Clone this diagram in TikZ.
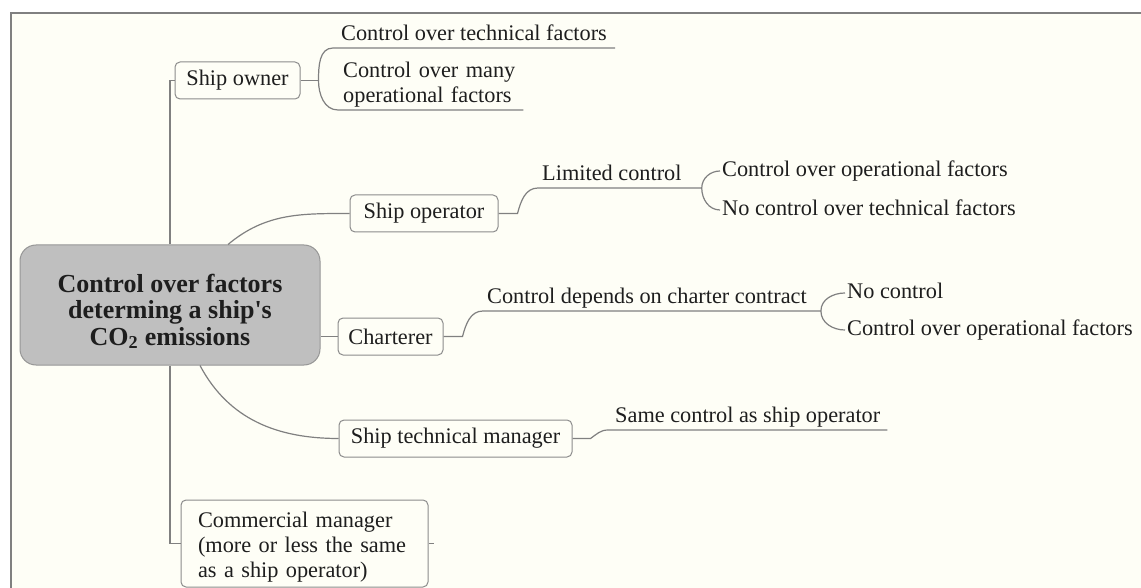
\documentclass[tikz,border=0pt]{standalone}
\usepackage{fontspec}
\setmainfont{Liberation Serif}
\usetikzlibrary{calc}

\definecolor{paper}{RGB}{254,254,246}
\definecolor{wire}{RGB}{128,128,128}
\definecolor{edge}{RGB}{140,140,140}
\definecolor{hub}{RGB}{191,191,191}
\definecolor{hubedge}{RGB}{150,150,150}
\definecolor{ink}{RGB}{30,30,30}

\tikzset{
    txt/.style={font=\fontsize{22.3}{25}\selectfont, text=ink},
    rolebox/.style={txt, draw=edge, fill=paper, line width=1pt, rounded corners=5pt,
        inner xsep=10pt, minimum height=37pt},
    branch/.style={txt, anchor=south west, inner xsep=4pt, inner ysep=2.5pt, align=left},
    branchline/.style={branch, text depth=4.6pt},
    leaf/.style={txt, anchor=west, inner xsep=2pt, text height=15.5pt, text depth=4.6pt},
    link/.style={draw=wire, line width=1.2pt}
}

\begin{document}
\begin{tikzpicture}[x=1pt, y=1pt]
    \useasboundingbox (0,0) rectangle (1141,-588);
    \fill[paper] (11,-13) rectangle (1141,-588);
    \draw[wire, line width=1.3pt] (11,-588) |- (1141,-13);

    \node[draw=hubedge, fill=hub, line width=1pt, rounded corners=16pt,
        minimum width=300pt, minimum height=120pt, align=center, text=ink,
        text height=80pt, text depth=0pt,
        font=\bfseries\fontsize{26}{26.5}\selectfont] (root) at (170,-305)
        {Control over factors\\determing a ship\textquotesingle s\\CO\textsubscript{2} emissions};

    \node[rolebox, minimum width=125pt] (owner) at (237.5,-80.5) {Ship owner};
    \node[rolebox, minimum width=148pt] (operator) at (424,-213.5) {Ship operator};
    \node[rolebox, minimum width=105pt] (charterer) at (390.5,-336.5) {Charterer};
    \node[rolebox, minimum width=233pt] (techman) at (455.5,-438.5) {Ship technical manager};
    \node[rolebox, minimum width=247pt, minimum height=87pt, text width=213pt, align=left,
        text height=23.5pt] (commercial) at (304.5,-543.5)
        {Commercial manager\\(more or less the same\\as a ship operator)};

    \node[branchline, inner xsep=8pt] (ownertech) at (333,-48)
        {Control over technical factors};
    \node[branch, text width=175pt, inner xsep=5pt] (ownerops) at (338,-110)
        {Control over many\\operational factors};
    \node[branchline] (oplimited) at (538,-188)
        {Limited control\hspace*{16pt}};
    \node[branchline] (chcontract) at (483,-311)
        {Control depends on charter contract\hspace*{10pt}};
    \node[branchline, inner xsep=7pt] (tmsame) at (608,-430)
        {Same control as ship operator};

    \node[leaf] (opops) at (720,-171) {Control over operational factors};
    \node[leaf] (optech) at (720,-210) {No control over technical factors};
    \node[leaf] (chnone) at (845,-293) {No control};
    \node[leaf] (chops) at (845,-330) {Control over operational factors};

    \draw[link] (root.north) |- (owner.west);
    \draw[link] (root.south) |- (commercial.west);
    \draw[link] ($(root.north)+(58,0)$) to[out=40,in=180] (operator.west);
    \draw[link] (root.east |- charterer.west) -- (charterer.west);
    \draw[link] ($(root.south)+(30,0)$) to[out=-62,in=180] (techman.west);
    \draw[link] (commercial.east) -- ++(5,0);

    \coordinate (ownerfork) at ($(owner.east)+(18,0)$);
    \coordinate (opfork) at ($(operator.east)+(19,0)$);
    \coordinate (chfork) at ($(charterer.east)+(19,0)$);
    \coordinate (tmfork) at ($(techman.east)+(18,0)$);

    \draw[link] (owner.east) -- (ownerfork);
    \draw[link] (ownerfork) to[out=90,in=180] (ownertech.south west) -- (ownertech.south east);
    \draw[link] (ownerfork) to[out=-90,in=180] (ownerops.south west) -- (ownerops.south east);

    \draw[link] (operator.east) -- (opfork) to[out=75,in=180] (oplimited.south west)
        -- (oplimited.south east);
    \draw[link] (oplimited.south east) to[out=90,in=180] (opops.west);
    \draw[link] (oplimited.south east) to[out=-90,in=180] (optech.west);

    \draw[link] (charterer.east) -- (chfork) to[out=75,in=180] (chcontract.south west)
        -- (chcontract.south east);
    \draw[link] (chcontract.south east) to[out=90,in=180] (chnone.west);
    \draw[link] (chcontract.south east) to[out=-90,in=180] (chops.west);

    \draw[link] (techman.east) -- (tmfork) to[out=35,in=180] (tmsame.south west)
        -- (tmsame.south east);
\end{tikzpicture}
\end{document}
